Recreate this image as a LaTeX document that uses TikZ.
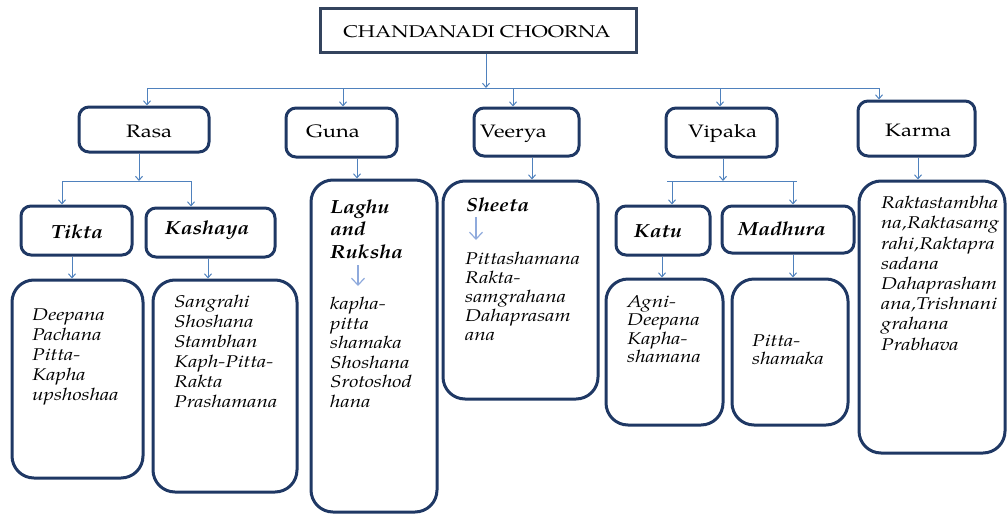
\documentclass[tikz,border=0pt]{standalone}
\usepackage{fontspec}
\setmainfont{TeX Gyre Pagella}[FakeStretch=1.22]
\newfontfamily\bifont{TeX Gyre Pagella}[FakeStretch=1.12]
\usetikzlibrary{arrows.meta,fit}
\definecolor{boxc}{HTML}{1F3864}
\definecolor{titc}{HTML}{34445E}
\definecolor{arrc}{HTML}{4F81BD}
\definecolor{arrl}{HTML}{8FAADC}
\tikzset{
 tbx/.style={draw=titc, line width=3pt, inner sep=0pt, fit={#1}},
 bx/.style={draw=boxc, line width=3pt, rounded corners=10pt, inner sep=0pt, fit={#1}},
 cbx/.style={draw=boxc, line width=3pt, rounded corners=22pt, inner sep=0pt, fit={#1}},
 arr/.style={draw=arrc, line width=1pt, -{Straight Barb[length=4pt,width=7pt]}},
 bus/.style={draw=arrc, line width=1pt},
 larr/.style={draw=arrl, line width=1.2pt, -{Straight Barb[length=7pt,width=13pt]}},
 lab/.style={font=\fontsize{18}{22}\selectfont, inner sep=0pt, anchor=base west},
 blab/.style={font=\bifont\fontsize{19}{22.5}\selectfont\bfseries\itshape, inner sep=0pt, anchor=base west},
 mlab/.style={font=\bifont\fontsize{19}{22.5}\selectfont\bfseries\itshape, inner sep=0pt, anchor=north west, align=left},
 itx/.style={font=\fontsize{17}{#1}\selectfont\itshape, inner sep=0pt, anchor=north west, align=left},
}
\begin{document}
\begin{tikzpicture}[x=1pt,y=-1pt]
\useasboundingbox (0,0) rectangle (1008,514);
% boxes
\node[tbx={(320,8) (636,52)}] (title) {};
\node[bx={(79,107) (209,152)}] (rasa) {};
\node[bx={(286,108) (397,157)}] (guna) {};
\node[bx={(474,108) (579,156)}] (veerya) {};
\node[bx={(666,108) (777,157)}] (vipaka) {};
\node[bx={(858,101) (975,156)}] (karma) {};
\node[bx={(21,206) (132,255)}] (tikta) {};
\node[bx={(146,208) (275,257)}] (kashaya) {};
\node[bx={(616,206) (710,255)}] (katu) {};
\node[bx={(722,206) (854,253)}] (madhura) {};
\node[cbx={(12,280) (143,478)}] (tiktaC) {};
\node[cbx={(153,280) (297,492)}] (kashayaC) {};
\node[cbx={(311,180) (437,512)}] (laghu) {};
\node[cbx={(443,181) (598,399)}] (sheeta) {};
\node[cbx={(606,279) (723,425)}] (katuC) {};
\node[cbx={(732,279) (848,425)}] (madhuraC) {};
\node[cbx={(859,181) (1005,453)}] (karmaC) {};
% labels
\node[inner sep=0pt, anchor=base, font=\fontsize{17}{20}\selectfont] (ttl) at (477,37) {CHANDANADI CHOORNA};
\node[lab] (trasa) at (126,137) {Rasa};
\node[lab] (tguna) at (306,137) {Guna};
\node[lab] (tveerya) at (480,137) {Veerya};
\node[lab] (tvipaka) at (688,137) {Vipaka};
\node[lab] (tkarma) at (885,136) {Karma};
\node[blab] (ttikta) at (51,238.5) {Tikta};
\node[blab] (tkashaya) at (165,234.5) {Kashaya};
\node[blab] (tkatu) at (634,237.5) {Katu};
\node[blab] (tmadhura) at (738,235.5) {Madhura};
\node[blab] (tsheeta) at (466,211.5) {Sheeta};
\node[mlab] (tlaghu) at (330,199.5) {Laghu\\and\\Ruksha};
% contents
\node[itx=20] (ctikta) at (32,309) {Deepana\\Pachana\\Pitta-\\Kapha\\upshoshaa};
\node[itx=20] (ckashaya) at (174,295) {Sangrahi\\Shoshana\\Stambhan\\Kaph-Pitta-\\Rakta\\Prashamana};
\node[itx=19.5] (claghu) at (330,297) {kapha-\\pitta\\shamaka\\Shoshana\\Srotoshod\\hana};
\node[itx=19] (csheeta) at (465,252) {Pittashamana\\Rakta-\\samgrahana\\Dahaprasam\\ana};
\node[itx=18.5] (ckatu) at (627,295) {Agni-\\Deepana\\Kapha-\\shamana};
\node[itx=18] (cmadhura) at (752,335) {Pitta-\\shamaka};
\node[itx=20.2] (ckarma) at (881,196) {Raktastambha\\na,Raktasamg\\rahi,Raktapra\\sadana\\Dahaprasham\\ana,Trishnani\\grahana\\Prabhava};
% top bus
\coordinate (tb) at (486,88);
\coordinate (bl) at (147,88);
\coordinate (br) at (879,88);
\draw[arr] (title.south -| tb) -- (tb);
\draw[bus] (bl) -- (br);
\draw[arr] (bl) -- (bl |- rasa.north);
\draw[arr] (343,88) coordinate (bg) -- (bg |- guna.north);
\draw[arr] (513,88) coordinate (bv) -- (bv |- veerya.north);
\draw[arr] (720,88) coordinate (bp) -- (bp |- vipaka.north);
\draw[arr] (br) -- (br |- karma.north);
% rasa branch
\coordinate (rb) at (139,181);
\draw[arr] (rasa.south -| rb) -- (rb);
\draw[bus] (62,181) coordinate (rl) -- (191,181) coordinate (rr);
\draw[arr] (rl) -- (rl |- tikta.north);
\draw[arr] (rr) -- (rr |- kashaya.north);
\draw[arr] (72,0 |- tikta.south) coordinate (ta) -- (ta |- tiktaC.north);
\draw[arr] (208,0 |- kashaya.south) coordinate (ka) -- (ka |- kashayaC.north);
% guna, veerya, karma
\draw[arr] (357,0 |- guna.south) coordinate (ga) -- (ga |- laghu.north);
\draw[arr] (532,0 |- veerya.south) coordinate (va) -- (va |- sheeta.north);
\draw[arr] (918,0 |- karma.south) coordinate (kra) -- (kra |- karmaC.north);
% vipaka branch
\coordinate (pb) at (723,181);
\draw[arr] (vipaka.south -| pb) -- (pb);
\draw[bus] (667,181) coordinate (pl) -- (797,181) coordinate (pr);
\draw[arr] (672,181) coordinate (pk) -- (pk |- katu.north);
\draw[arr] (793,181) coordinate (pm) -- (pm |- madhura.north);
\draw[arr] (662,0 |- katu.south) coordinate (kta) -- (kta |- katuC.north);
\draw[arr] (793,0 |- madhura.south) coordinate (ma) -- (ma |- madhuraC.north);
% inner light arrows
\draw[larr] (358,265) coordinate (la1) -- (358,286) coordinate (la2);
\draw[larr] (476,217) coordinate (sa1) -- (476,240) coordinate (sa2);
\end{tikzpicture}
\end{document}
